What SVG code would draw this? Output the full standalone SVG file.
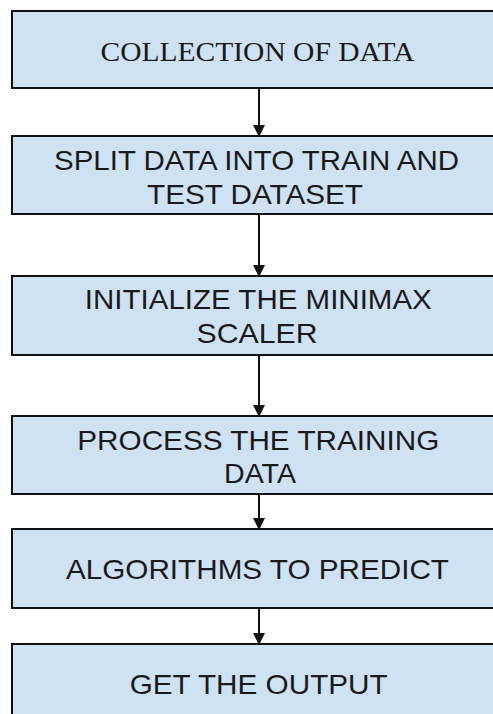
<svg xmlns="http://www.w3.org/2000/svg" width="493" height="714" viewBox="0 0 493 714">
<style>
.box{fill:#cfe2f3;stroke:#111;stroke-width:2}
.t{font-family:"Liberation Sans",Arial,sans-serif;font-size:28px;fill:#1a1a1a;text-anchor:middle}
.s{font-family:"Liberation Serif","Times New Roman",serif;font-size:28px;fill:#1a1a1a;text-anchor:middle}
.c{stroke:#111;stroke-width:2;fill:none;marker-end:url(#ah)}
</style>
<defs>
<marker id="ah" markerUnits="userSpaceOnUse" markerWidth="12" markerHeight="14" refX="11" refY="6" orient="auto">
<path d="M0,0 L12,6 L0,12 Z" fill="#111"/>
</marker>
</defs>
<rect width="493" height="714" fill="#fff"/>
<g id="connectors">
<line class="c" x1="259" y1="88" x2="259" y2="136"/>
<line class="c" x1="259" y1="214" x2="259" y2="276"/>
<line class="c" x1="259" y1="355" x2="259" y2="416"/>
<line class="c" x1="259" y1="494" x2="259" y2="529"/>
<line class="c" x1="259" y1="608" x2="259" y2="644"/>
</g>
<g id="n1">
<rect class="box" x="12" y="11" width="500" height="77"/>
<text class="s" x="257.5" y="61" textLength="314" lengthAdjust="spacingAndGlyphs">COLLECTION OF DATA</text>
</g>
<g id="n2">
<rect class="box" x="12" y="136" width="500" height="78"/>
<text class="t" x="256.5" y="170" textLength="405" lengthAdjust="spacingAndGlyphs">SPLIT DATA INTO TRAIN AND</text>
<text class="t" x="255" y="204" textLength="216" lengthAdjust="spacingAndGlyphs">TEST DATASET</text>
</g>
<g id="n3">
<rect class="box" x="12" y="276" width="500" height="79"/>
<text class="t" x="258.3" y="309" textLength="347" lengthAdjust="spacingAndGlyphs">INITIALIZE THE MINIMAX</text>
<text class="t" x="257" y="343" textLength="121" lengthAdjust="spacingAndGlyphs">SCALER</text>
</g>
<g id="n4">
<rect class="box" x="12" y="416" width="500" height="78"/>
<text class="t" x="258.3" y="450" textLength="362" lengthAdjust="spacingAndGlyphs">PROCESS THE TRAINING</text>
<text class="t" x="260" y="483" textLength="72" lengthAdjust="spacingAndGlyphs">DATA</text>
</g>
<g id="n5">
<rect class="box" x="12" y="529" width="500" height="79"/>
<text class="t" x="257.5" y="579" textLength="383" lengthAdjust="spacingAndGlyphs">ALGORITHMS TO PREDICT</text>
</g>
<g id="n6">
<rect class="box" x="12" y="644" width="500" height="80"/>
<text class="t" x="258.7" y="694" textLength="258" lengthAdjust="spacingAndGlyphs">GET THE OUTPUT</text>
</g>
</svg>
